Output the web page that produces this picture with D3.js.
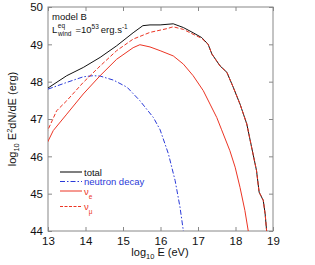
<!DOCTYPE html>
<html>
<head>
<meta charset="utf-8">
<script src="https://cdn.jsdelivr.net/npm/d3@7"></script>
<style>
  body { margin: 0; background: #fff; }
  svg { font-family: "Liberation Sans", Arial, sans-serif; }
</style>
</head>
<body>
<div class="chart"></div>
<script>
// data: [log10 E (eV), log10 E^2 dN/dE (erg)]
var total = [[13.0,47.83],[13.5,48.16],[13.94,48.38],[14.39,48.65],[14.83,48.96],[15.27,49.31],
  [15.53,49.5],[15.72,49.52],[15.99,49.52],[16.34,49.55],[16.61,49.45],[16.87,49.31],[17.1,49.18],
  [17.27,49.0],[17.37,48.74],[17.59,48.42],[17.77,48.25],[17.94,47.85],[18.12,47.4],[18.3,46.87],
  [18.43,46.24],[18.56,45.62],[18.63,45.04],[18.74,44.82],[18.79,44.46],[18.83,44.0],[18.85,43.5]];
var neutronDecay = [[13.0,47.8],[13.5,47.98],[13.94,48.13],[14.2,48.16],[14.39,48.15],[14.75,48.04],
  [15.11,47.85],[15.45,47.49],[15.81,47.04],[15.99,46.71],[16.21,46.07],[16.39,45.35],[16.52,44.64],
  [16.61,44.0],[16.65,43.5]];
var nuE = [[12.95,46.3],[13.14,46.69],[13.5,47.13],[13.94,47.67],[14.39,48.16],[14.83,48.6],[15.27,48.91],
  [15.45,48.99],[15.72,48.93],[15.99,48.83],[16.34,48.69],[16.61,48.47],[16.87,48.16],[17.14,47.76],
  [17.32,47.4],[17.5,47.04],[17.63,46.71],[17.85,46.15],[17.99,45.71],[18.12,45.17],[18.25,44.55],
  [18.34,44.0],[18.37,43.5]];
var nuMu = [[12.95,46.6],[13.23,47.22],[13.5,47.49],[13.94,47.98],[14.39,48.42],[14.83,48.83],[15.27,49.14],
  [15.72,49.32],[15.99,49.38],[16.17,49.42],[16.34,49.47],[16.61,49.4],[16.87,49.27],[17.1,49.16],
  [17.27,49.0],[17.37,48.74],[17.59,48.42],[17.77,48.25],[17.94,47.85],[18.12,47.4],[18.3,46.87],
  [18.43,46.24],[18.56,45.62],[18.63,45.04],[18.74,44.82],[18.79,44.46],[18.83,44.0],[18.85,43.5]];

var xTicks = [13, 14, 15, 16, 17, 18, 19];
var yTicks = [44, 45, 46, 47, 48, 49, 50];

var series = [
  {name: "total", data: total, color: "#111", dash: null},
  {name: "neutron decay", data: neutronDecay, color: "#2a3ad8", dash: "5,2,1.5,2"},
  {name: "nu_e", data: nuE, color: "#ec3524", dash: null},
  {name: "nu_mu", data: nuMu, color: "#ec3524", dash: "4,2"}
];

var svgWidth = 315, svgHeight = 265;
var margin = {top: 7, right: 42, bottom: 34, left: 48};
var width = svgWidth - margin.left - margin.right;
var height = svgHeight - margin.top - margin.bottom;

var svg = d3.select(".chart").append("svg")
  .attr("width", svgWidth)
  .attr("height", svgHeight);

var chartGroup = svg.append("g")
  .attr("transform", `translate(${margin.left}, ${margin.top})`);

var x = d3.scaleLinear().domain([13, 19]).range([0, width]);
var y = d3.scaleLinear().domain([44, 50]).range([height, 0]);

svg.append("clipPath").attr("id", "clip")
  .append("rect").attr("width", width).attr("height", height);

var frameColor = "#888";

// axes, ticks pointing inwards on all four sides
function styleAxis(g) {
  g.select(".domain").remove();
  g.selectAll(".tick line").attr("stroke", frameColor);
  g.selectAll(".tick text").attr("font-size", 11.5).attr("fill", "#111");
}
chartGroup.append("g")
  .attr("transform", `translate(0, ${height})`)
  .call(d3.axisBottom(x).tickValues(xTicks).tickFormat(d3.format("d")).tickSizeInner(-4).tickPadding(6))
  .call(styleAxis);
chartGroup.append("g")
  .call(d3.axisLeft(y).tickValues(yTicks).tickFormat(d3.format("d")).tickSizeInner(-4).tickPadding(5))
  .call(styleAxis);
chartGroup.append("g")
  .call(d3.axisTop(x).tickValues(xTicks).tickFormat("").tickSizeInner(-4))
  .call(styleAxis);
chartGroup.append("g")
  .attr("transform", `translate(${width}, 0)`)
  .call(d3.axisRight(y).tickValues(yTicks).tickFormat("").tickSizeInner(-4))
  .call(styleAxis);

chartGroup.append("rect")
  .attr("width", width).attr("height", height)
  .attr("fill", "none").attr("stroke", frameColor).attr("stroke-width", 1);

// curves
var line = d3.line().x(d => x(d[0])).y(d => y(d[1]));
chartGroup.append("g").attr("clip-path", "url(#clip)")
  .selectAll("path")
  .data(series)
  .enter()
  .append("path")
  .attr("fill", "none")
  .attr("stroke", d => d.color)
  .attr("stroke-width", 1)
  .attr("stroke-dasharray", d => d.dash)
  .attr("d", d => line(d.data));

// annotations
var note = svg.append("g").attr("font-size", 9.5).attr("fill", "#111");
note.append("text").attr("x", 52).attr("y", 20).text("model B");
var lw = note.append("text").attr("x", 52).attr("y", 33);
lw.append("tspan").text("L");
lw.append("tspan").attr("font-size", 6.5).attr("dy", -5).attr("dx", 0.5).text("eq");
lw.append("tspan").attr("font-size", 6.5).attr("dy", 8).attr("dx", -7).text("wind");
lw.append("tspan").attr("dy", -3).attr("dx", 4).text("=10");
lw.append("tspan").attr("font-size", 6.5).attr("dy", -4).text("53");
lw.append("tspan").attr("dy", 4).attr("dx", 2).text("erg.s");
lw.append("tspan").attr("font-size", 6.5).attr("dy", -4).text("-1");

// legend
var legend = [
  {label: "total", color: "#555", dash: null, y: 172},
  {label: "neutron decay", color: "#2a3ad8", dash: "5,2,1.5,2", y: 181.5},
  {label: "ν", sub: "e", color: "#ec3524", dash: null, y: 191},
  {label: "ν", sub: "μ", color: "#ec3524", dash: "3,1.5", y: 206.5}
];
var lg = svg.append("g").selectAll("g").data(legend).enter().append("g");
lg.append("line")
  .attr("x1", 60).attr("x2", 82)
  .attr("y1", d => d.y).attr("y2", d => d.y)
  .attr("stroke", d => d.color)
  .attr("stroke-width", d => d.label == "total" ? 1.5 : 1)
  .attr("stroke-dasharray", d => d.dash);
var lt = lg.append("text")
  .attr("x", 84).attr("y", d => d.y + 3.5)
  .attr("font-size", 9.5)
  .attr("fill", d => d.label == "total" ? "#111" : d.color);
lt.append("tspan").text(d => d.label);
lt.filter(d => d.sub).append("tspan")
  .attr("font-size", 6.5).attr("dy", 4).text(d => d.sub);

// axis labels
var xl = svg.append("text")
  .attr("x", 160).attr("y", 256)
  .attr("text-anchor", "middle").attr("font-size", 11).attr("fill", "#111");
xl.append("tspan").text("log");
xl.append("tspan").attr("font-size", 7.5).attr("dy", 3).text("10");
xl.append("tspan").attr("dy", -3).text(" E (eV)");

var yl = svg.append("text")
  .attr("transform", `translate(16, 119) rotate(-90)`)
  .attr("text-anchor", "middle").attr("font-size", 11).attr("fill", "#111");
yl.append("tspan").text("log");
yl.append("tspan").attr("font-size", 7.5).attr("dy", 3).text("10");
yl.append("tspan").attr("dy", -3).text(" E");
yl.append("tspan").attr("font-size", 7.5).attr("dy", -4).text("2");
yl.append("tspan").attr("dy", 4).text("dN/dE (erg)");
</script>
</body>
</html>
